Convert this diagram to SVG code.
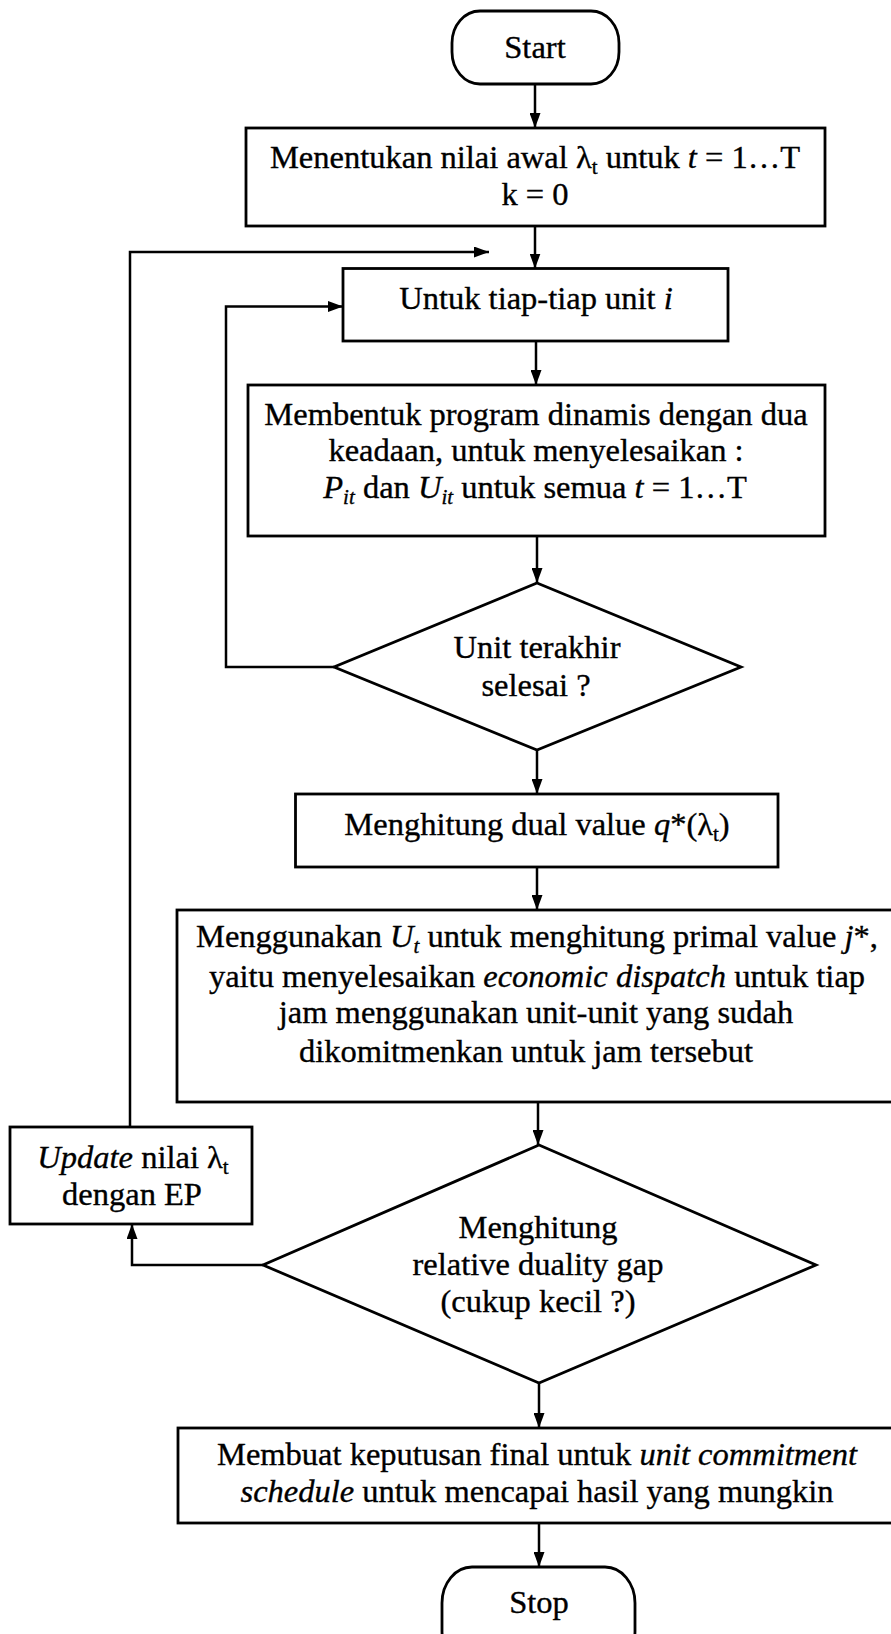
<svg xmlns="http://www.w3.org/2000/svg" width="891" height="1634" viewBox="0 0 891 1634">
<style>
.s{fill:none;stroke:#000;stroke-width:2.5}
.n{fill:#fff;stroke:#000;stroke-width:2.8}
text{font-family:"Liberation Serif","Times New Roman",serif;font-size:32.5px;fill:#000;stroke:#000;stroke-width:0.35;text-anchor:middle}
.i{font-style:italic}
.sb{font-size:21px}
</style>
<defs>
<marker id="ah" viewBox="0 0 15 11" refX="15" refY="5.5" markerWidth="15" markerHeight="11" markerUnits="userSpaceOnUse" orient="auto"><path d="M0,0 L15,5.5 L0,11 z" fill="#000"/></marker>
</defs>
<rect width="891" height="1634" fill="#fff"/>
<g id="connectors">
<path class="s" d="M535,84 V128" marker-end="url(#ah)"/>
<path class="s" d="M535,226 V268.5" marker-end="url(#ah)"/>
<path class="s" d="M536,341 V385" marker-end="url(#ah)"/>
<path class="s" d="M537,536 V583" marker-end="url(#ah)"/>
<path class="s" d="M537,750 V794" marker-end="url(#ah)"/>
<path class="s" d="M537,867 V910" marker-end="url(#ah)"/>
<path class="s" d="M538,1102 V1145" marker-end="url(#ah)"/>
<path class="s" d="M539,1383 V1428" marker-end="url(#ah)"/>
<path class="s" d="M539,1523 V1567" marker-end="url(#ah)"/>
<path class="s" d="M334,667 H226 V306.5 H343" marker-end="url(#ah)"/>
<path class="s" d="M263,1265 H132 V1224" marker-end="url(#ah)"/>
<path class="s" d="M130,1127 V252 H489" marker-end="url(#ah)"/>
</g>
<g id="start">
<rect class="n" x="452" y="11" width="167" height="73" rx="28" ry="32"/>
<text x="535" y="58">Start</text>
</g>
<g id="init">
<rect class="n" x="246" y="128" width="579" height="98"/>
<text x="535" y="168">Menentukan nilai awal λ<tspan class="sb" dy="6">t</tspan><tspan dy="-6"> untuk </tspan><tspan class="i">t</tspan> = 1…T</text>
<text x="535" y="205">k = 0</text>
</g>
<g id="unit">
<rect class="n" x="343" y="268.5" width="385" height="72.5"/>
<text x="536" y="309">Untuk tiap-tiap unit <tspan class="i">i</tspan></text>
</g>
<g id="dp">
<rect class="n" x="248" y="385" width="577" height="151"/>
<text x="536" y="425">Membentuk program dinamis dengan dua</text>
<text x="536" y="461">keadaan, untuk menyelesaikan :</text>
<text x="535" y="498"><tspan class="i">P</tspan><tspan class="i sb" dy="6">it</tspan><tspan dy="-6"> dan </tspan><tspan class="i">U</tspan><tspan class="i sb" dy="6">it</tspan><tspan dy="-6"> untuk semua </tspan><tspan class="i">t</tspan> = 1…T</text>
</g>
<g id="last-unit">
<polygon class="n" points="537,583 741,667 537,750 334,667"/>
<text x="537" y="658">Unit terakhir</text>
<text x="536" y="696">selesai ?</text>
</g>
<g id="dual">
<rect class="n" x="295.5" y="794" width="482.5" height="73"/>
<text x="537" y="835">Menghitung dual value <tspan class="i">q</tspan>*(λ<tspan class="sb" dy="6">t</tspan><tspan dy="-6">)</tspan></text>
</g>
<g id="primal">
<rect class="n" x="177" y="910" width="730" height="192"/>
<text x="537" y="947">Menggunakan <tspan class="i">U</tspan><tspan class="i sb" dy="6">t</tspan><tspan dy="-6"> untuk menghitung primal value </tspan><tspan class="i">j</tspan>*,</text>
<text x="537" y="987">yaitu menyelesaikan <tspan class="i">economic dispatch</tspan> untuk tiap</text>
<text x="536" y="1023">jam menggunakan unit-unit yang sudah</text>
<text x="526" y="1062">dikomitmenkan untuk jam tersebut</text>
</g>
<g id="update">
<rect class="n" x="10" y="1127" width="242" height="97"/>
<text x="133" y="1168"><tspan class="i">Update</tspan> nilai λ<tspan class="sb" dy="6">t</tspan></text>
<text x="132" y="1205">dengan EP</text>
</g>
<g id="gap">
<polygon class="n" points="539,1145 816,1265 539,1383 263,1265"/>
<text x="538" y="1238">Menghitung</text>
<text x="538" y="1275">relative duality gap</text>
<text x="538" y="1312">(cukup kecil ?)</text>
</g>
<g id="final">
<rect class="n" x="178" y="1428" width="730" height="95"/>
<text x="537" y="1465">Membuat keputusan final untuk <tspan class="i">unit commitment</tspan></text>
<text x="537" y="1502"><tspan class="i">schedule</tspan> untuk mencapai hasil yang mungkin</text>
</g>
<g id="stop">
<rect class="n" x="442" y="1567" width="193" height="100" rx="30" ry="36"/>
<text x="539" y="1613">Stop</text>
</g>
</svg>
